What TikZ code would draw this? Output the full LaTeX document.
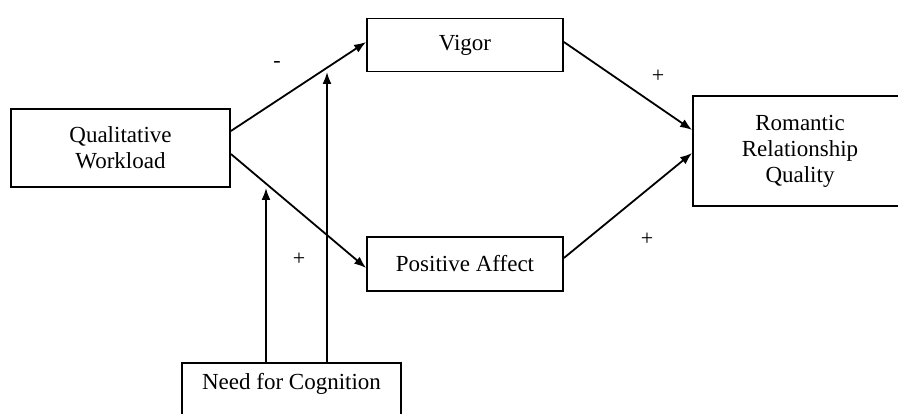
\documentclass[tikz,border=0pt]{standalone}
\usepackage{fontspec}
\setmainfont{Liberation Serif}
\usepackage{tikz}
\usetikzlibrary{calc}
\usetikzlibrary{arrows.meta}
\usetikzlibrary{positioning}
\tikzset{>={Latex[length=12pt,width=9pt]}}
\tikzstyle{box} = [rectangle, draw=black, line width=1.8pt, align=center, inner sep=0pt, font=\fontsize{23pt}{26pt}\selectfont]
\tikzstyle{path} = [->, line width=1.8pt, draw=black]
\tikzstyle{sign} = [font=\fontsize{22pt}{24pt}\selectfont]

\begin{document}
\begin{tikzpicture}[x=1pt, y=-1pt]
\useasboundingbox (0, 0) rectangle (898, 414);
\clip (0, 0) rectangle (898, 414);
\node [box, minimum width=219pt, minimum height=78pt] (qw) at (120.5, 148) {Qualitative\\Workload};
\node [box, minimum width=196pt, minimum height=53pt] (vig) at (465, 45) {Vigor};
\node [box, minimum width=196pt, minimum height=54pt] (pa) at (465, 264) {Positive Affect};
\node [box, minimum width=214pt, minimum height=110pt] (rrq) at (800, 151) {Romantic\\Relationship\\Quality};
\node [box, anchor=base, minimum width=219pt, text height=17pt, text depth=30pt, inner ysep=10pt] (nfc) at (291.5, 390) {Need for Cognition};
\coordinate (m1) at (266, 188);
\coordinate (m2) at (327, 72);
\draw [path] ($(qw.east)+(0,-17)$) to ($(vig.west)+(0,-3)$);
\draw [path] ($(qw.east)+(0,6)$) to ($(pa.west)+(0,4)$);
\draw [path] ($(vig.east)+(0,-3)$) to ($(rrq.west)+(0,-21)$);
\draw [path] ($(pa.east)+(0,-6)$) to ($(rrq.west)+(0,2)$);
\draw [path] (nfc.north -| m1) to (m1);
\draw [path] (nfc.north -| m2) to (m2);
\node [sign] (s1) at (277, 65) {-};
\node [sign] (s2) at (658, 76) {+};
\node [sign] (s3) at (299, 259) {+};
\node [sign] (s4) at (647, 239) {+};
\end{tikzpicture}
\end{document}
